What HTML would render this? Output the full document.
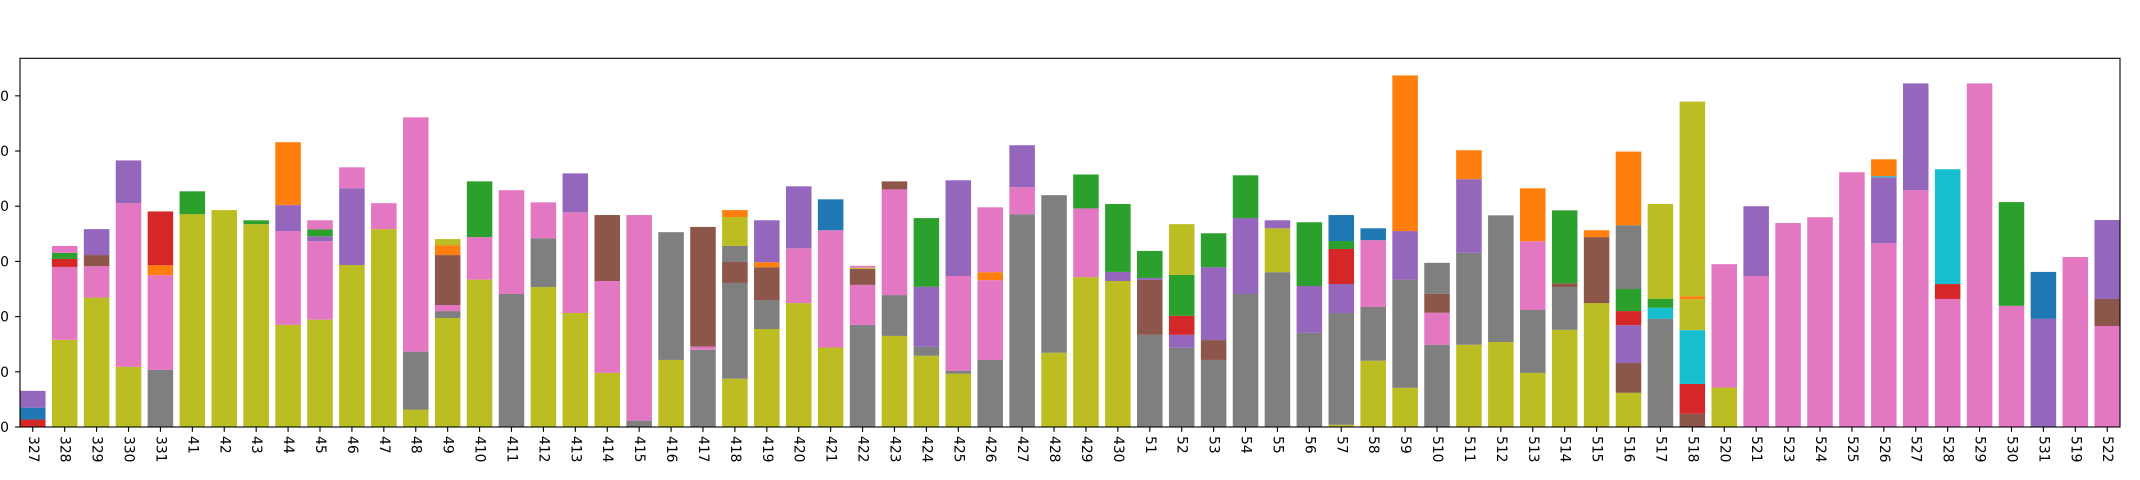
<!DOCTYPE html>
<html><head><meta charset="utf-8"><style>
html,body{margin:0;padding:0;background:#fff;}
svg{display:block;font-family:"DejaVu Sans","Liberation Sans",sans-serif;}
</style></head><body>
<svg id="chart" width="2140" height="480" viewBox="0 0 2140 480" xmlns="http://www.w3.org/2000/svg"></svg>
<script>
const categories = ["327","328","329","330","331","41","42","43","44","45","46","47","48","49","410","411","412","413","414","415","416","417","418","419","420","421","422","423","424","425","426","427","428","429","430","51","52","53","54","55","56","57","58","59","510","511","512","513","514","515","516","517","518","520","521","523","524","525","526","527","528","529","530","531","519","522"];
const yTicks = [0,20,40,60,80,100,120];
// per-category stack: colour keys (bottom to top)
const segColors = [
["r","b","p"],["o","k","r","g","k"],["o","k","n","p"],["o","k","p"],["y","k","a","r"],
["o","g"],["o"],["o","g"],["o","k","p","a"],["o","k","p","g","k"],
["o","p","k"],["o","k"],["o","y","k"],["o","y","k","n","a","o"],["o","k","g"],["y","k"],
["o","y","k"],["o","k","p"],["o","k","n"],["y","k"],["o","y"],["y","k","n"],
["o","y","n","y","o","a"],["o","y","n","a","p"],["o","k","p"],["o","k","b"],["y","k","n","o","k"],
["o","y","k","n"],["o","y","p","g"],["o","y","k","p"],["y","k","a","k"],["y","k","p"],["o","y"],
["o","k","g"],["o","p","g"],["y","n","p","g"],["y","p","r","g","o"],["y","n","p","g"],["y","p","g"],
["y","o","p"],["y","p","g"],["o","y","p","r","g","b"],["o","y","k","b"],["o","y","p","a"],
["y","k","n","y"],["o","y","p","a"],["o","y"],["o","y","k","a"],["o","y","n","g"],["o","n","a"],
["o","n","p","r","g","y","a"],["y","c","g","o"],["n","r","c","o","a","o"],["o","k"],["k","p"],
["k"],["k"],["k"],["k","p","c","a"],["k","p"],["k","r","c"],["k"],["k","g"],["p","b"],["k"],["k","n","p"]
];
const segValues = [
[2.7,4.3,6.1],[31.6,26.4,2.9,2.2,2.5],[46.9,11.4,4.0,9.4],[21.8,59.3,15.5],[20.7,34.3,3.6,19.5],
[77.1,8.3],[78.6],[73.5,1.4],[37.0,34.0,9.4,22.8],[38.9,28.4,1.8,2.5,3.3],
[58.7,27.8,7.6],[71.7,9.4],[6.3,21.0,84.9],[39.5,2.5,2.2,18.1,3.6,2.2],[53.4,15.4,20.2],[48.2,37.6],
[50.7,17.7,13.0],[41.3,36.5,14.1],[19.6,33.3,23.9],[2.3,74.5],[24.3,46.3],[28.0,1.1,43.4],
[17.5,34.7,7.6,5.8,10.5,2.5],[35.5,10.5,11.9,1.8,15.2],[44.9,19.9,22.4],[28.8,42.5,11.2],[37.0,14.5,5.8,0.4,0.7],
[33.0,14.8,38.3,2.9],[25.8,3.3,21.7,24.9],[19.3,1.1,34.3,34.7],[24.3,28.9,2.9,23.5],[77.1,9.8,15.2],[26.9,57.1],
[54.3,24.9,12.3],[52.9,3.3,24.6],[33.4,19.9,0.7,9.8],[28.7,4.7,6.9,14.8,18.4],[24.3,7.2,26.4,12.3],[48.2,27.5,15.5],
[56.1,15.9,2.9],[34.1,17.0,23.1],[0.8,40.5,10.5,12.7,2.9,9.4],[24.0,19.5,24.2,4.3],[14.2,39.2,17.6,56.4],
[29.8,11.6,6.9,11.2],[29.8,33.3,26.7,10.5],[30.8,45.9],[19.6,22.8,24.9,19.2],[35.2,15.5,1.4,26.4],[44.9,23.9,2.5],
[12.4,10.8,13.7,5.1,8.0,23.1,26.7],[39.2,4.0,3.3,34.3],[4.8,10.8,19.5,11.2,1.1,70.5],[14.3,44.7],[54.7,25.3],
[73.9],[76.0],[92.3],[66.6,23.9,0.4,6.1],[85.8,38.7],[46.4,5.4,41.6],[124.5],[43.9,37.6],[39.2,17.0],[61.6],[36.6,9.8,28.6]
];
const palette = {b:"#1f77b4",a:"#ff7f0e",g:"#2ca02c",r:"#d62728",p:"#9467bd",n:"#8c564b",k:"#e377c2",y:"#7f7f7f",o:"#bcbd22",c:"#17becf"};

const NS="http://www.w3.org/2000/svg";
const svg=document.getElementById('chart');
const L=20,R=2120,T=58.3,B=427;
const xMin=-0.4,xMax=categories.length-1+0.4,yMax=133.6;
const xs=i=>L+(i-xMin)/(xMax-xMin)*(R-L);
const ys=v=>B-v/yMax*(B-T);
const bw=0.8*(R-L)/(xMax-xMin);
function mk(t,a){const e=document.createElementNS(NS,t);for(const k in a)e.setAttribute(k,a[k]);svg.appendChild(e);return e;}

categories.forEach((c,i)=>{
  let acc=0;
  segValues[i].forEach((v,j)=>{
    const r=mk('rect',{x:xs(i)-bw/2,y:ys(acc+v),width:bw,height:ys(acc)-ys(acc+v),fill:palette[segColors[i][j]]});
    
    
    acc+=v;
  });
  const tk=mk('line',{x1:xs(i),x2:xs(i),y1:B,y2:B+4.9,stroke:'#000','stroke-width':1.1});
  
  
  const tx=mk('text',{x:0,y:0,'font-size':13.9,fill:'#000','dominant-baseline':'central',transform:'translate('+xs(i)+','+(B+9)+') rotate(90)'});
  tx.textContent=c;
  
  
});
yTicks.forEach(v=>{
  const tk=mk('line',{x1:L-4.9,x2:L,y1:ys(v),y2:ys(v),stroke:'#000','stroke-width':1.1});
  
  
  const tx=mk('text',{x:9,y:ys(v)+5,'font-size':13.9,'text-anchor':'end',fill:'#000'});
  tx.textContent=String(v);
  
  
});
const fr=mk('rect',{x:L,y:T,width:R-L,height:B-T,fill:'none',stroke:'#000','stroke-width':1.1});


</script>
</body></html>
